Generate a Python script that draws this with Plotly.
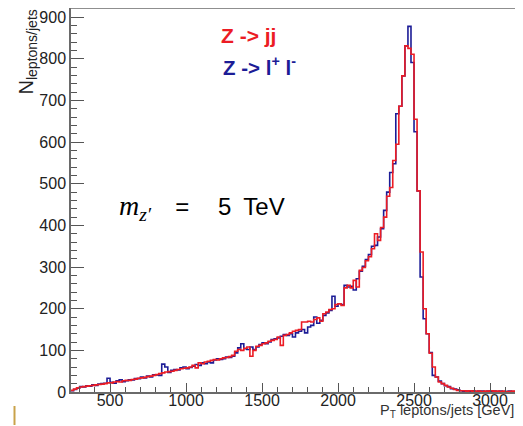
import plotly.graph_objects as go

# ---------------- data (20 GeV bins, lower edges from 240 GeV) ----------------
bin_start = 240
bin_width = 20

# Z -> jj (red)
counts_jj = [
    4, 7, 10, 12, 13, 14, 15, 16, 17, 18,            # 240-420
    19, 20, 22, 22, 24, 25, 24, 27, 28, 28,          # 440-620
    30, 31, 33, 34, 35, 37, 38, 40, 42, 44,          # 640-820
    46, 48, 49, 50, 52, 54, 56, 57, 58, 60,          # 840-1020
    64, 58, 70, 68, 72, 74, 76, 78, 77, 80,          # 1040-1220
    82, 83, 85, 88, 98, 102, 100, 105, 108, 86,      # 1240-1420
    100, 110, 112, 116, 118, 122, 124, 126, 132, 112,  # 1440-1620
    136, 138, 142, 146, 148, 150, 168, 168, 170, 168,  # 1640-1820
    174, 178, 170, 188, 192, 198, 200, 210, 212, 208,  # 1840-2020
    250, 256, 250, 268, 252, 292, 299, 315, 325, 344,  # 2040-2220
    380, 364, 395, 420, 470, 491, 556, 595, 686, 759,  # 2240-2420
    831, 825, 811, 655, 483, 336, 200, 140, 93, 60,    # 2440-2620
    36, 24, 20, 16, 12, 9, 6, 4, 3, 3,                 # 2640-2820
    2, 3, 2, 2, 2, 1, 2, 2, 3, 2,                      # 2840-3020
    2, 1, 2, 1, 1, 2, 1, 1, 1,                         # 3040-3200
]

# Z -> l+ l- (blue)
counts_ll = [
    3, 6, 9, 13, 12, 15, 14, 17, 16, 19,
    20, 21, 33, 23, 21, 27, 29, 25, 27, 29,
    29, 32, 32, 36, 34, 38, 36, 41, 41, 40,
    67, 60, 47, 52, 54, 53, 58, 60, 56, 59,
    62, 66, 64, 70, 68, 72, 70, 77, 80, 78,
    80, 84, 83, 86, 94, 106, 116, 104, 102, 108,
    102, 108, 114, 118, 116, 120, 126, 128, 130, 134,
    138, 136, 140, 132, 142, 146, 150, 142, 156, 160,
    180, 165, 172, 184, 190, 196, 230, 206, 212, 210,
    256, 252, 254, 245, 272, 290, 302, 318, 330, 350,
    352, 372, 392, 436, 480, 527, 548, 668, 686, 759,
    831, 878, 791, 625, 483, 276, 176, 140, 95, 40,
    36, 26, 20, 15, 13, 8, 7, 5, 3, 2,
    2, 2, 3, 1, 2, 2, 1, 2, 2, 2,
    1, 2, 1, 1, 2, 1, 1, 1, 1,
]

x_tick_vals = [500, 1000, 1500, 2000, 2500, 3000]
y_tick_vals = [0, 100, 200, 300, 400, 500, 600, 700, 800, 900]

series_names = ["Z -> jj", "Z -> l+ l-"]

# ---------------- figure ----------------
# The page body has an 8px default margin, so the figure is drawn 8px right/down.
OFF = 8
W, H = 523 - OFF, 426 - OFF
L, R, T, B = 71 - OFF, 0, 8 - OFF, 34
x_range = [243, 3217]
y_range = [0, 922]

RED = "#ec1c24"
BLUE = "#1c1c96"
FONT = "Liberation Sans, Arial, sans-serif"


def step_xy(counts):
    edges = [bin_start + i * bin_width for i in range(len(counts) + 1)]
    return edges, list(counts) + [counts[-1]]


fig = go.Figure()
xb, yb = step_xy(counts_ll)
fig.add_trace(go.Scatter(x=xb, y=yb, mode="lines", line=dict(shape="hv", color=BLUE, width=1.6),
                         name=series_names[1], showlegend=False, hoverinfo="skip"))
xr, yr = step_xy(counts_jj)
fig.add_trace(go.Scatter(x=xr, y=yr, mode="lines", line=dict(shape="hv", color=RED, width=1.6),
                         name=series_names[0], showlegend=False, hoverinfo="skip"))

tickfont = dict(family=FONT, size=16, color="#222222")

fig.update_xaxes(
    range=x_range, showgrid=False, zeroline=False,
    showline=True, linecolor="#6a6a6a", linewidth=1.5,
    ticks="inside", ticklen=9, tickwidth=1, tickcolor="#555555",
    tickvals=x_tick_vals, ticktext=[str(v) for v in x_tick_vals],
    tickfont=tickfont, ticklabelstandoff=-7,
    minor=dict(ticks="inside", ticklen=5, tickwidth=1, tickcolor="#555555", dtick=100, tick0=0, showgrid=False),
)
fig.update_yaxes(
    range=y_range, showgrid=False, zeroline=False,
    showline=True, linecolor="#6a6a6a", linewidth=1.5,
    ticks="inside", ticklen=13, tickwidth=1, tickcolor="#555555",
    tickvals=y_tick_vals, ticktext=[str(v) for v in y_tick_vals],
    tickfont=tickfont,
    minor=dict(ticks="inside", ticklen=6, tickwidth=1, tickcolor="#555555", dtick=20, tick0=0, showgrid=False),
)

pw, ph = W - L - R, H - T - B


def px2x(px):
    # page pixel -> paper x
    return (px - OFF - L) / pw


def py2y(py):
    # page pixel -> paper y
    return (H - B - (py - OFF)) / ph


annotations = [
    dict(text="<b>Z -> jj</b>", x=px2x(219), y=py2y(35.5), xanchor="left", yanchor="middle",
         font=dict(family=FONT, size=21, color=RED)),
    dict(text="<b>Z -> l<sup>+</sup> l<sup>-</sup></b>", x=px2x(221), y=py2y(66), xanchor="left", yanchor="middle",
         font=dict(family=FONT, size=20.5, color=BLUE)),
    dict(text="<span style=\"font-family:'Liberation Serif';font-size:28px\"><i>m</i><sub><i>z\u2032</i></sub></span>"
              "\u2003=\u2003\u20095\u2002TeV",
         x=px2x(117), y=py2y(208), xanchor="left", yanchor="middle",
         font=dict(family=FONT, size=24, color="#000000")),
    dict(text="P<sub>T</sub> leptons/jets [GeV]", x=px2x(378), y=py2y(411), xanchor="left", yanchor="middle",
         font=dict(family=FONT, size=14.5, color="#333333")),
    dict(text="N<sub>leptons/jets</sub>", x=px2x(27), y=py2y(OFF), xanchor="center", yanchor="top",
         textangle=-90,
         font=dict(family=FONT, size=20, color="#222222")),
]
for a in annotations:
    a.update(xref="paper", yref="paper", showarrow=False)

shapes = [
    # top frame line
    dict(type="line", xref="paper", yref="paper", x0=0, x1=1, y0=1, y1=1,
         line=dict(color="#6a6a6a", width=1.5)),
    # small decorative mark at bottom left
    dict(type="line", xref="paper", yref="paper", x0=px2x(14.5), x1=px2x(14.5), y0=py2y(406), y1=py2y(425),
         line=dict(color="#c9a24a", width=2)),
]

fig.update_layout(
    width=W, height=H,
    margin=dict(l=L, r=R, t=T, b=B),
    paper_bgcolor="white", plot_bgcolor="white",
    annotations=annotations, shapes=shapes,
    showlegend=False,
)

fig.write_html("out.html")
